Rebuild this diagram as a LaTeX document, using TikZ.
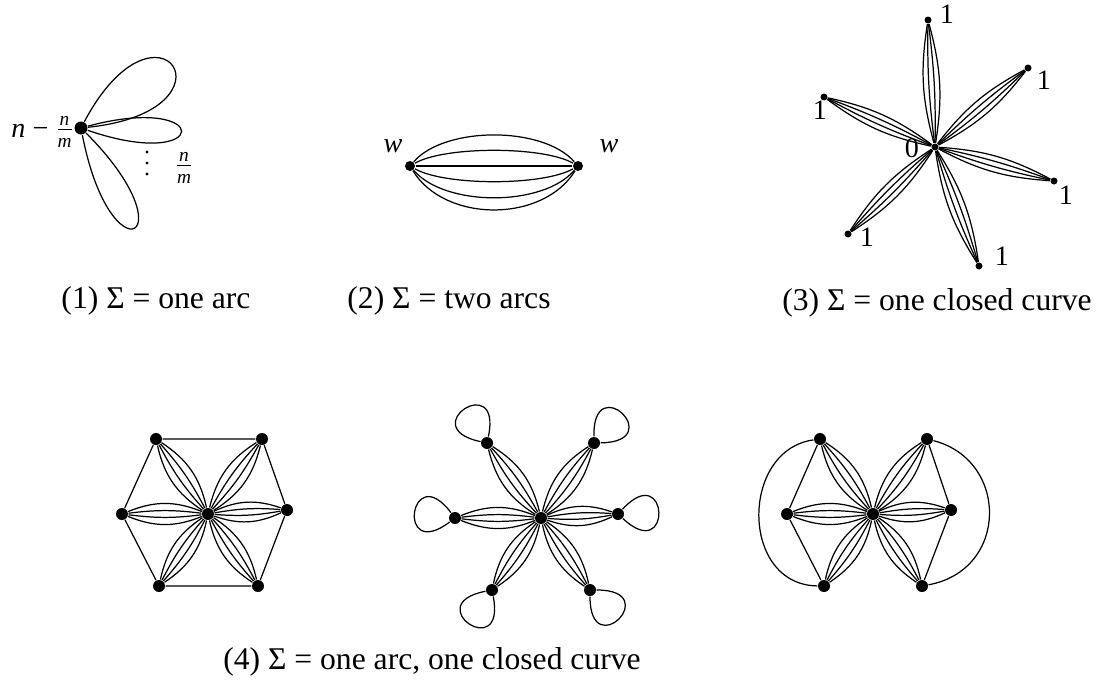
\documentclass[tikz,border=0pt]{standalone}
\usepackage{fontspec}
\setmainfont{Liberation Serif}
\usetikzlibrary{positioning}

\begin{document}
\begin{tikzpicture}[
  x=0.2mm, y=-0.2mm,
  font=\fontsize{16}{19}\selectfont,
  line width=0.7pt,
  dot/.style={circle, fill=black, inner sep=0pt, minimum size=#1},
  dot/.default=2.4mm,
  lbl/.style={inner sep=1pt},
  captxt/.style={font=\fontsize{18}{21}\selectfont},
]
\useasboundingbox (0,0) rectangle (1102,698);

\newcommand{\nm}{$\frac{\mbox{\fontsize{11}{12}\selectfont\itshape n}}{\mbox{\fontsize{11}{12}\selectfont\itshape m}}$}

% =====================================================================
% (1) one vertex with loops
% =====================================================================
\node[dot=2.6mm] (v1) at (81,128) {};
\draw (v1) .. controls +(-62:165) and +(-6:165) .. (v1);
\draw (v1) .. controls +(-15:138) and +(19:138) .. (v1);
\draw (v1) .. controls +(45:156) and +(79:156) .. (v1);
\foreach \y in {152,163,174} { \fill (147,\y) circle (1.6); }
\node[lbl] (v1frac) at (184,168) {\nm};
\node[lbl, anchor=east] (v1lab) at (76,132) {\itshape n\/\upshape\ − \nm};

% =====================================================================
% (2) two vertices, multiple edges
% =====================================================================
\node[dot=2mm] (wa) at (410,166) {};
\node[dot=2mm] (wb) at (578,166) {};
\draw (wa) .. controls (445,126) and (543,126) .. (wb);
\draw (wa) .. controls (445,146) and (543,146) .. (wb);
\draw (wa) -- (wb);
\draw (wa) .. controls (445,186) and (543,186) .. (wb);
\draw (wa) .. controls (445,207) and (543,207) .. (wb);
\draw (wa) .. controls (445,223) and (543,223) .. (wb);
\node[lbl] (walab) at (393,146) {\itshape w};
\node[lbl] (wblab) at (609,146) {\itshape w};

% =====================================================================
% (3) star, labels 0 and 1
% =====================================================================
\node[dot=1.4mm] (c3) at (935,147) {};
\node[lbl] (c3lab) at (912,148) {0};
\foreach \n/\x/\y/\lx/\ly in {t/928/20/947/14, ur/1028/68/1044/80,
                              r/1054/181/1066/195, lr/979/266/1002/256,
                              ll/848/234/867/237, l/824/97/820/110}{
  \node[dot=1.4mm] (s\n) at (\x,\y) {};
  \node[lbl] (s\n lab) at (\lx,\ly) {1};
  \foreach \b in {-12,-4,4,12} { \draw (c3) to[bend left=\b] (s\n); }
}

% =====================================================================
% (4) three graphs
% =====================================================================
% hexagon
\node[dot] (h0) at (208,514) {};
\foreach \n/\x/\y in {TL/156/439, TR/262/439, L/122/514,
                      R/287/510, BL/159/586, BR/258/586}{
  \node[dot] (h\n) at (\x,\y) {};
  \foreach \b in {-22,-7,7,22} { \draw (h0) to[bend left=\b] (h\n); }
}
\draw (hTL) -- (hTR) -- (hR) -- (hBR) -- (hBL) -- (hL) -- (hTL);

% loops at the outer vertices
\node[dot] (p0) at (541,518) {};
\foreach \n/\x/\y/\a in {TL/487/443/123, TR/594/443/46, L/455/518/172,
                         R/618/514/2, BL/492/590/-124, BR/590/590/-45}{
  \node[dot] (p\n) at (\x,\y) {};
  \foreach \b in {-22,-7,7,22} { \draw (p0) to[bend left=\b] (p\n); }
  \draw (p\n) .. controls +({-\a-45}:75) and +({-\a+45}:75) .. (p\n);
}

% two triangles with outer arcs
\node[dot] (q0) at (873,514) {};
\foreach \n/\x/\y in {TL/820/439, TR/927/439, L/787/514,
                      R/951/510, BL/824/586, BR/922/586}{
  \node[dot] (q\n) at (\x,\y) {};
  \foreach \b in {-22,-7,7,22} { \draw (q0) to[bend left=\b] (q\n); }
}
\draw (qTL) -- (qL) -- (qBL);
\draw (qTR) -- (qR) -- (qBR);
\draw (qTL) .. controls (740,450) and (740,585) .. (qBL);
\draw (qTR) .. controls (1009,460) and (1009,570) .. (qBR);

% =====================================================================
% captions
% =====================================================================
\node[captxt] (cap1) at (156,301) {(1) Σ = one arc};
\node[captxt] (cap2) at (449,301) {(2) Σ = two arcs};
\node[captxt] (cap3) at (937,303) {(3) Σ = one closed curve};
\node[captxt] (cap4) at (432,662) {(4) Σ = one arc, one closed curve};

\end{tikzpicture}
\end{document}
